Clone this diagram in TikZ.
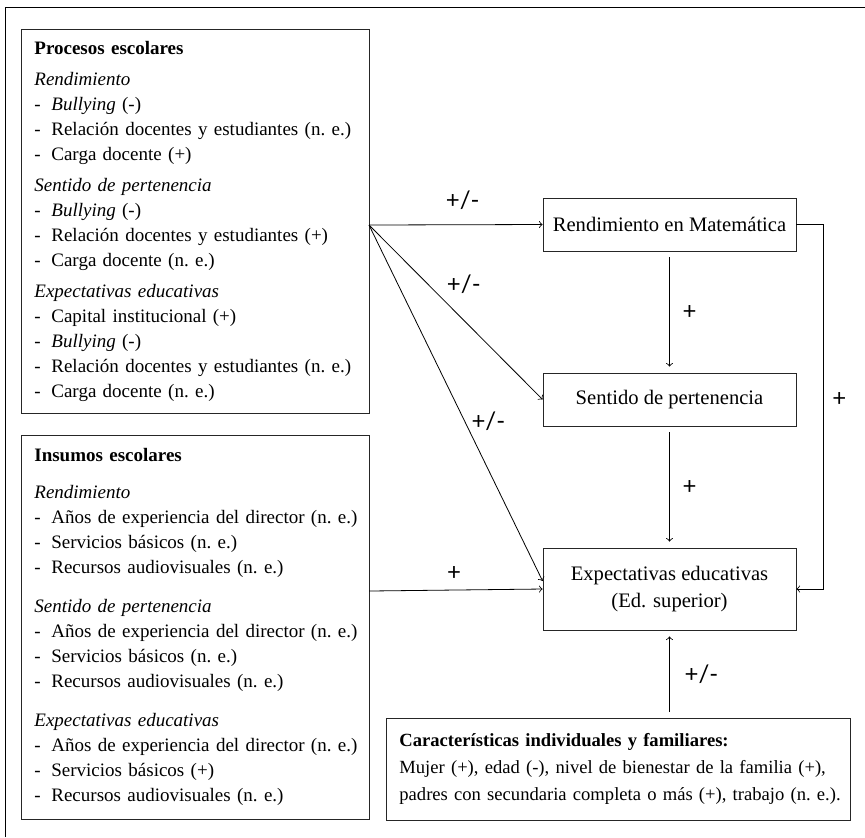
\documentclass[tikz,border=0pt]{standalone}
\usepackage{fontspec}
\setmainfont{Liberation Serif}
\newfontfamily\signfont{Lato}
\newcommand{\dashitem}[1]{\mbox{\makebox[8.5pt][l]{-}#1}}
\begin{document}
\begin{tikzpicture}[x=0.5pt,y=-0.5pt,
  box/.style={rectangle,draw=black!85,font=\fontsize{10.3}{13.5}\selectfont},
  listbox/.style={box,anchor=north west,align=left,inner xsep=6.5pt,font=\fontsize{9.5}{12.5}\selectfont},
  sign/.style={font=\signfont\fontsize{12}{13}\selectfont},
  gap/.style={shorten <=3pt,shorten >=3pt}]
\useasboundingbox (0,0) rectangle (865,837);
\draw (5,837) -- (5,7) -- (865,7);
%
\node at (21,29) [listbox,text width=161pt,minimum height=192pt] (proc) {%
\textbf{Procesos escolares}\\[3pt]
\textit{Rendimiento}\\
\dashitem{\textit{Bullying} (-)}\\
\dashitem{Relación docentes y estudiantes (n.~e.)}\\
\dashitem{Carga docente (+)}\\[3pt]
\textit{Sentido de pertenencia}\\
\dashitem{\textit{Bullying} (-)}\\
\dashitem{Relación docentes y estudiantes (+)}\\
\dashitem{Carga docente (n.~e.)}\\[3pt]
\textit{Expectativas educativas}\\
\dashitem{Capital institucional (+)}\\
\dashitem{\textit{Bullying} (-)}\\
\dashitem{Relación docentes y estudiantes (n.~e.)}\\
\dashitem{Carga docente (n.~e.)}};
%
\node at (21,435) [listbox,text width=161pt,minimum height=192pt] (ins) {%
\textbf{Insumos escolares}\\[6pt]
\textit{Rendimiento}\\
\dashitem{Años de experiencia del director (n.~e.)}\\
\dashitem{Servicios básicos (n.~e.)}\\
\dashitem{Recursos audiovisuales (n.~e.)}\\[7pt]
\textit{Sentido de pertenencia}\\
\dashitem{Años de experiencia del director (n.~e.)}\\
\dashitem{Servicios básicos (n.~e.)}\\
\dashitem{Recursos audiovisuales (n.~e.)}\\[7pt]
\textit{Expectativas educativas}\\
\dashitem{Años de experiencia del director (n.~e.)}\\
\dashitem{Servicios básicos (+)}\\
\dashitem{Recursos audiovisuales (n.~e.)}};
%
\node at (386,718) [listbox,text width=219pt,minimum height=51pt,font=\fontsize{9.3}{13.5}\selectfont] (car) {%
\textbf{Características individuales y familiares:}\\
\mbox{Mujer (+), edad (-), nivel de bienestar de la familia (+),}\\
\mbox{padres con secundaria completa o más (+), trabajo (n.~e.).}};
%
\node at (669.5,224.5) [box,minimum width=126.5pt,minimum height=26.5pt] (rend) {Rendimiento en Matemática};
\node at (669.5,399.5) [box,minimum width=126.5pt,minimum height=26.5pt] (sent) {Sentido de pertenencia};
\node at (669.5,589) [box,minimum width=126.5pt,minimum height=41pt,align=center] (expe) {Expectativas educativas\\(Ed. superior)};
%
\coordinate (pout) at (369,225);
\coordinate (iout) at (369,591);
%
\draw[->] (pout) -- node[sign,pos=0.54,above=4pt] {+/-} (rend.west);
\draw[->] (pout) -- node[sign,pos=0.42,above right=-1pt] {+/-} (sent.west);
\draw[->] (pout) -- node[sign,pos=0.55,right=0pt] {+/-} ([yshift=4pt]expe.west);
\draw[->] (iout) -- node[sign,pos=0.49,above=1pt] {+} (expe.west);
%
\draw[->,gap] (rend) -- node[sign,right=3pt] {+} (sent);
\draw[->,gap] (sent) -- node[sign,right=3pt] {+} (expe);
\draw[->] (rend.east) -- ++(27,0) |- node[sign,pos=0.24,right=1pt] {+} (expe.east);
\draw[->,gap] (car.north -| expe.south) -- node[sign,right=4pt] {+/-} (expe.south);
\end{tikzpicture}
\end{document}
